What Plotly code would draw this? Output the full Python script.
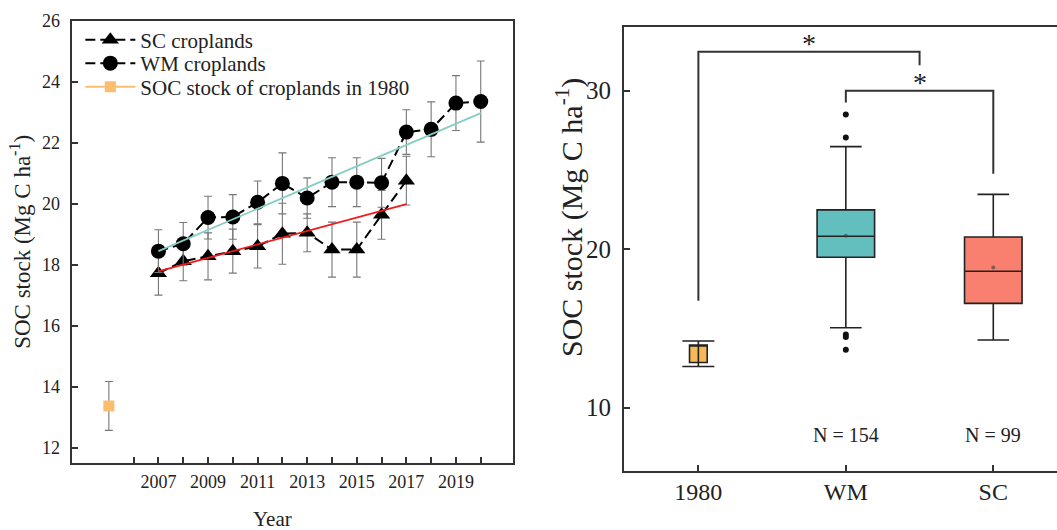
import plotly.graph_objects as go

# ---------------- data: left panel ----------------
wm_years = [2007, 2008, 2009, 2010, 2011, 2012, 2013, 2014, 2015, 2016, 2017, 2018, 2019, 2020]
wm_soc = [18.45, 18.69, 19.55, 19.57, 20.05, 20.67, 20.19, 20.71, 20.71, 20.69, 22.35, 22.44, 23.30, 23.35]
wm_err = [0.70, 0.70, 0.70, 0.73, 0.70, 1.00, 0.66, 0.80, 0.80, 0.80, 0.73, 0.90, 0.90, 1.33]

sc_years = [2007, 2008, 2009, 2010, 2011, 2012, 2013, 2014, 2015, 2016, 2017]
sc_soc = [17.73, 18.12, 18.28, 18.45, 18.61, 19.02, 19.05, 18.50, 18.50, 19.64, 20.76]
sc_err = [0.72, 0.64, 0.77, 0.72, 0.71, 1.00, 0.62, 0.90, 0.90, 0.80, 0.80]

soc1980_x = [2005]
soc1980_y = [13.38]
soc1980_err = [0.80]

wm_trend_x = [2007, 2020]
wm_trend_y = [18.45, 22.97]
sc_trend_x = [2007, 2017]
sc_trend_y = [17.79, 19.99]

year_minor_ticks = list(range(2006, 2021))
year_major_ticks = [2007, 2009, 2011, 2013, 2015, 2017, 2019]
left_y_ticks = [12, 14, 16, 18, 20, 22, 24, 26]

# ---------------- data: right panel ----------------
groups = ["1980", "WM", "SC"]
group_pos = [0, 1, 2]
box_q1 = [12.85, 19.49, 16.58]
box_median = [13.95, 20.81, 18.61]
box_q3 = [13.95, 22.48, 20.77]
box_low = [12.85, 15.04, 14.27]
box_high = [13.95, 26.47, 23.46]
box_mean = [13.40, 20.85, 18.85]
box_colors = ["#F6B957", "#63BEBE", "#F9806E"]
err1980 = [0.80]
wm_outliers = [28.50, 27.05, 14.62, 14.45, 13.65]
group_n = ["N = 154", "N = 99"]
n_label_y = [8.26, 8.26]
right_y_ticks = [10, 20, 30]

bracket1_x = [0, 0, 1.5, 1.5]
bracket1_y = [16.75, 32.46, 32.46, 31.60]
bracket2_x = [1, 1, 2, 2]
bracket2_y = [29.25, 30.00, 30.00, 24.76]
star_x = [0.75, 1.5]
star_y = [33.0, 30.5]

Y_TITLE = "SOC stock (Mg C ha<sup>-1</sup>)"
X_TITLE = "Year"

FONT = "Liberation Serif"
TXT = "#222222"
AX = "#333333"

fig = go.Figure()

# left panel series (each in its own legend box so rows can sit where the reference has them)
fig.add_trace(go.Scatter(
    x=sc_years, y=sc_soc, name="SC croplands", mode="lines+markers", legend="legend",
    line=dict(color="black", width=2, dash="10px,5px"),
    marker=dict(symbol="triangle-up", size=15, color="black"),
    error_y=dict(type="data", array=sc_err, color="#777777", thickness=1.1, width=4),
    xaxis="x", yaxis="y"))
fig.add_trace(go.Scatter(
    x=wm_years, y=wm_soc, name="WM croplands", mode="lines+markers", legend="legend2",
    line=dict(color="black", width=2, dash="10px,5px"),
    marker=dict(symbol="circle", size=15, color="black"),
    error_y=dict(type="data", array=wm_err, color="#777777", thickness=1.1, width=4),
    xaxis="x", yaxis="y"))
fig.add_trace(go.Scatter(
    x=soc1980_x, y=soc1980_y, name="SOC stock of croplands in 1980", mode="lines+markers",
    legend="legend3",
    line=dict(color="#FBBE6E", width=2),
    marker=dict(symbol="square", size=11, color="#FBBE6E"),
    error_y=dict(type="data", array=soc1980_err, color="#777777", thickness=1.1, width=4),
    xaxis="x", yaxis="y"))
fig.add_trace(go.Scatter(
    x=wm_trend_x, y=wm_trend_y, mode="lines", showlegend=False,
    line=dict(color="#86CDC3", width=1.8), xaxis="x", yaxis="y"))
fig.add_trace(go.Scatter(
    x=sc_trend_x, y=sc_trend_y, mode="lines", showlegend=False,
    line=dict(color="#F01A1A", width=1.8), xaxis="x", yaxis="y"))

# right panel boxes
box_widths = [0.12, 0.39, 0.39]
whisker_w = [0.0, 0.55, 0.55]
for i in range(3):
    fig.add_trace(go.Box(
        x=[group_pos[i]], q1=[box_q1[i]], median=[box_median[i]], q3=[box_q3[i]],
        lowerfence=[box_low[i]], upperfence=[box_high[i]],
        width=box_widths[i], whiskerwidth=whisker_w[i],
        fillcolor=box_colors[i], line=dict(color="#222222", width=1.6),
        boxpoints=False, showlegend=False, hoverinfo="skip",
        xaxis="x2", yaxis="y2"))

fig.add_trace(go.Scatter(
    x=[group_pos[0]], y=[box_mean[0]], mode="markers", showlegend=False,
    marker=dict(size=1, color="#222222"),
    error_y=dict(type="data", array=err1980, color="#222222", thickness=1.6, width=16),
    xaxis="x2", yaxis="y2"))
fig.add_trace(go.Scatter(
    x=[group_pos[1]] * len(wm_outliers), y=wm_outliers, mode="markers", showlegend=False,
    marker=dict(size=6, color="#111111"), xaxis="x2", yaxis="y2"))
fig.add_trace(go.Scatter(
    x=group_pos[1:], y=box_mean[1:], mode="markers", showlegend=False,
    marker=dict(size=4, color="rgba(60,60,60,0.6)"), xaxis="x2", yaxis="y2"))

# significance brackets
for bx, by in [(bracket1_x, bracket1_y), (bracket2_x, bracket2_y)]:
    fig.add_trace(go.Scatter(
        x=bx, y=by, mode="lines", showlegend=False,
        line=dict(color="#333333", width=2), xaxis="x2", yaxis="y2"))

annotations = []
for sx, sy in zip(star_x, star_y):
    annotations.append(dict(x=sx, y=sy, xref="x2", yref="y2", text="*", showarrow=False,
                            font=dict(family=FONT, size=28, color=TXT)))
for gx, lab, ly in zip(group_pos[1:], group_n, n_label_y):
    annotations.append(dict(x=gx, y=ly, xref="x2", yref="y2", text=lab, showarrow=False,
                            font=dict(family=FONT, size=20, color=TXT)))
# axis titles placed where the reference shows them
annotations.append(dict(x=272 / 1057, y=1 - 519 / 530, xref="paper", yref="paper",
                        text=X_TITLE, showarrow=False, xanchor="center", yanchor="middle",
                        font=dict(family=FONT, size=21, color=TXT)))
annotations.append(dict(x=569 / 1057, y=1 - 218 / 530, xref="paper", yref="paper",
                        text=Y_TITLE, showarrow=False, textangle=-90,
                        xanchor="center", yanchor="middle",
                        font=dict(family=FONT, size=30, color=TXT)))

axis_common = dict(showline=True, linecolor=AX, linewidth=2, ticks="inside",
                   tickcolor=AX, tickwidth=1.5, ticklen=6, showgrid=False, zeroline=False,
                   automargin=False)

legend_common = dict(x=0.076, xanchor="left", yanchor="middle",
                     bgcolor="rgba(0,0,0,0)", font=dict(size=21, color=TXT),
                     itemwidth=50, borderwidth=0)

fig.update_layout(
    width=1057, height=530,
    margin=dict(l=0, r=0, t=0, b=0, autoexpand=False),
    paper_bgcolor="white", plot_bgcolor="white",
    font=dict(family=FONT, color=TXT),
    xaxis=dict(domain=[0.0678, 0.4853], range=[2003.5, 2021.3],
               tickmode="array", tickvals=year_major_ticks,
               minor=dict(tickvals=year_minor_ticks, ticks="inside", ticklen=6,
                          tickcolor=AX, tickwidth=1.5, showgrid=False),
               tickfont=dict(size=18), ticklabelstandoff=1, mirror=True, **axis_common),
    yaxis=dict(domain=[0.1264, 0.961], range=[11.51, 26.0],
               tickmode="array", tickvals=left_y_ticks,
               tickfont=dict(size=18), ticklabelstandoff=6, mirror=True,
               title=dict(text=Y_TITLE, font=dict(size=23), standoff=5),
               **axis_common),
    xaxis2=dict(domain=[0.5904, 1.0], range=[-0.504, 2.432], anchor="y2",
                tickmode="array", tickvals=group_pos, ticktext=groups,
                tickfont=dict(size=24), ticklabelstandoff=-2, mirror=True, **axis_common),
    yaxis2=dict(domain=[0.1113, 0.9485], range=[6.0, 34.0], anchor="x2",
                tickmode="array", tickvals=right_y_ticks,
                tickfont=dict(size=25), ticklabelstandoff=6, mirror=False,
                **axis_common),
    legend=dict(y=1 - 40 / 530, **legend_common),
    legend2=dict(y=1 - 63.5 / 530, **legend_common),
    legend3=dict(y=1 - 87 / 530, **legend_common),
    annotations=annotations,
    showlegend=True,
)

fig.write_html("out.html", config={"displayModeBar": False},
               post_script="document.body.style.margin='0px';document.body.style.padding='0px';")
